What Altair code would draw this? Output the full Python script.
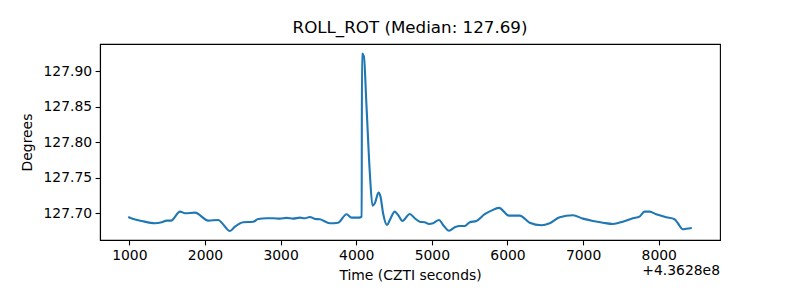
import altair as alt
import pandas as pd

OFFSET_LABEL = "+4.3628e8"
TITLE = "ROLL_ROT (Median: 127.69)"

# time relative to 4.3628e8 CZTI seconds
time_rel = [985, 1053, 1164, 1339, 1428, 1494, 1551, 1670, 1736, 1868, 2044, 2176, 2221,
            2330, 2396, 2506, 2638, 2704, 2815, 2902, 2991, 3079, 3166, 3255, 3321, 3387,
            3453, 3519, 3651, 3761, 3872, 3938, 4038, 4072, 4076, 4101, 4136, 4180, 4215,
            4246, 4295, 4321, 4355, 4408, 4444, 4510, 4553, 4611, 4708, 4774, 4840, 4906,
            4963, 5016, 5095, 5148, 5227, 5303, 5369, 5435, 5501, 5589, 5699, 5787, 5888,
            6020, 6161, 6293, 6448, 6558, 6690, 6865, 6997, 7130, 7262, 7394, 7526, 7658,
            7746, 7812, 7878, 7967, 8099, 8209, 8253, 8319, 8363, 8437]
roll_rot = [127.6948, 127.6920, 127.6891, 127.6859, 127.6873, 127.6896, 127.6896, 127.7023,
            127.7000, 127.7008, 127.6896, 127.6905, 127.6867, 127.6750, 127.6811, 127.6873,
            127.6881, 127.6920, 127.6929, 127.6929, 127.6924, 127.6934, 127.6924, 127.6938,
            127.6929, 127.6948, 127.6920, 127.6915, 127.6859, 127.6867, 127.6986, 127.6938,
            127.6938, 127.6952, 127.9249, 127.9211, 127.8505, 127.7565, 127.7107, 127.7141,
            127.7291, 127.7234, 127.7000, 127.6835, 127.6905, 127.7023, 127.6976, 127.6891,
            127.6990, 127.6929, 127.6881, 127.6873, 127.6849, 127.6859, 127.6905, 127.6835,
            127.6754, 127.6802, 127.6821, 127.6821, 127.6873, 127.6891, 127.6986, 127.7037,
            127.7075, 127.6966, 127.6966, 127.6867, 127.6831, 127.6859, 127.6944, 127.6972,
            127.6924, 127.6891, 127.6867, 127.6849, 127.6881, 127.6929, 127.6952, 127.7023,
            127.7023, 127.6986, 127.6944, 127.6915, 127.6859, 127.6774, 127.6782, 127.6792]

x_ticks = [1000, 2000, 3000, 4000, 5000, 6000, 7000, 8000]
y_ticks = [127.70, 127.75, 127.80, 127.85, 127.90]

df = pd.DataFrame({"t": time_rel, "v": roll_rot})

W, H = 620, 196
FONT = "DejaVu Sans"

line = alt.Chart(df).mark_line(color="#1f77b4", strokeWidth=2.1, interpolate="monotone").encode(
    x=alt.X("t:Q", scale=alt.Scale(domain=[612, 8810], nice=False, zero=False),
            axis=alt.Axis(values=x_ticks, format="d", title="Time (CZTI seconds)")),
    y=alt.Y("v:Q", scale=alt.Scale(domain=[127.6623, 127.9384], nice=False, zero=False),
            axis=alt.Axis(values=y_ticks, format=".2f", title="Degrees")),
)

offset_text = alt.Chart(pd.DataFrame({"s": [OFFSET_LABEL]})).mark_text(
    align="right", baseline="top", font=FONT, fontSize=13.9, color="black"
).encode(text="s:N", x=alt.value(W), y=alt.value(H + 24))

chart = (line + offset_text).properties(
    width=W, height=H,
    title=alt.TitleParams(TITLE, font=FONT, fontSize=16.7, fontWeight="normal",
                          color="black", offset=7),
    autosize=alt.AutoSizeParams(type="none"),
    padding={"left": 100, "top": 44, "right": 80, "bottom": 60},
).configure_view(
    stroke="black", strokeWidth=1.1
).configure_axis(
    grid=False, domainColor="black", domainWidth=1.1, tickColor="black", tickWidth=1.1,
    tickSize=4.9, labelPadding=3.5, labelFont=FONT, labelFontSize=13.9, labelColor="black",
    titleFont=FONT, titleFontSize=13.9, titleFontWeight="normal", titleColor="black",
).configure_axisY(titlePadding=8).configure_axisX(titlePadding=6)

chart.save("out.html", embed_options={"renderer": "svg", "actions": False})
